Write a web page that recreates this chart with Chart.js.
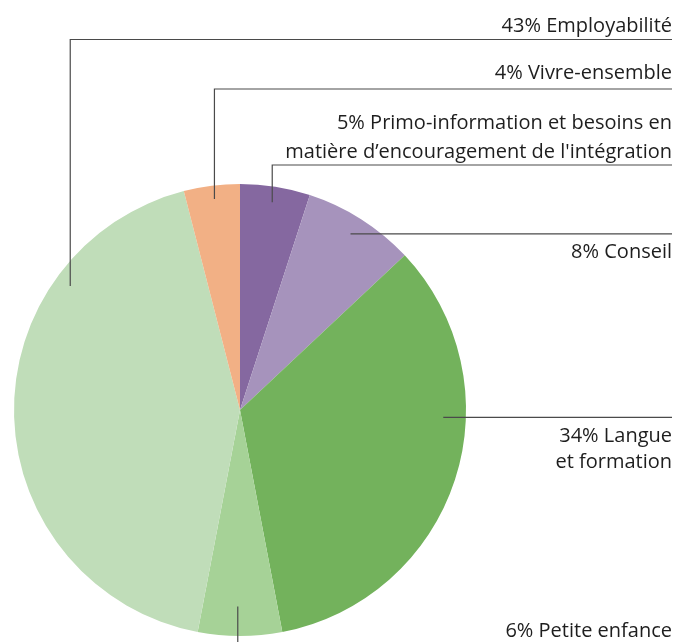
<!DOCTYPE html>
<html>
<head>
<meta charset="utf-8">
<script src="https://cdn.jsdelivr.net/npm/chart.js@4"></script>
<style>
  html, body { margin: 0; padding: 0; background: #fff; }
  #wrap { width: 677px; height: 642px; }
</style>
</head>
<body>
<div id="wrap"><canvas id="pie-chart"></canvas></div>
<script>
// data, clockwise from the top
const categories = [
    'Primo-information et besoins en matière d’encouragement de l\'intégration',
    'Conseil',
    'Langue et formation',
    'Petite enfance',
    'Employabilité',
    'Vivre-ensemble'
];
const shares = [5, 8, 34, 6, 43, 4];
const labelLines = [
    ['5% Primo-information et besoins en', 'matière d’encouragement de l\'intégration'],
    ['8% Conseil'],
    ['34% Langue', 'et formation'],
    ['6% Petite enfance'],
    ['43% Employabilité'],
    ['4% Vivre-ensemble']
];

const colors = ['#8568a0', '#a693bc', '#73b25c', '#a6d297', '#c0ddb9', '#f2b085'];

// leader line layout per slice: where on the slice it starts (fraction of
// angle span, fraction of radius), where it bends, and text baselines
const leaders = [
    { at: 0.49, r: 0.93, bend: 165, textY: [128.5, 157.5] },
    { at: 0.49, r: 0.92, bend: null, textY: [257.5] },
    { at: 0.37, r: 0.90, bend: null, textY: [442, 467.5] },
    { at: 0.53, r: 0.87, bend: 'down', textY: [636.5] },
    { at: 0.745, r: 0.93, bend: 39.5, textY: [31.5] },
    { at: 0.52, r: 0.94, bend: 89, textY: [79] }
];

const rightEdge = 672;

const leaderPlugin = {
    id: 'leaders',
    afterDatasetsDraw(chart) {
        const ctx = chart.ctx;
        const meta = chart.getDatasetMeta(0);
        ctx.save();
        ctx.strokeStyle = '#4a4a4a';
        ctx.lineWidth = 1.2;
        ctx.fillStyle = '#1e1e1e';
        ctx.font = '20px "Open Sans"';
        ctx.textAlign = 'right';
        ctx.textBaseline = 'alphabetic';
        meta.data.forEach((arc, i) => {
            const p = arc.getProps(['x', 'y', 'startAngle', 'endAngle', 'outerRadius'], true);
            const l = leaders[i];
            const a = p.startAngle + (p.endAngle - p.startAngle) * l.at;
            const ax = p.x + Math.cos(a) * p.outerRadius * l.r;
            const ay = p.y + Math.sin(a) * p.outerRadius * l.r;
            ctx.beginPath();
            ctx.moveTo(ax, ay);
            if (l.bend === 'down') {
                ctx.lineTo(ax, chart.height);
            } else if (l.bend === null) {
                ctx.lineTo(rightEdge, ay);
            } else {
                ctx.lineTo(ax, l.bend);
                ctx.lineTo(rightEdge, l.bend);
            }
            ctx.stroke();
            labelLines[i].forEach((t, j) => ctx.fillText(t, rightEdge, l.textY[j]));
        });
        ctx.restore();
    }
};

new Chart(document.getElementById('pie-chart'), {
    type: 'pie',
    data: {
        labels: categories,
        datasets: [{
            data: shares,
            backgroundColor: colors,
            borderWidth: 0
        }]
    },
    options: {
        responsive: true,
        maintainAspectRatio: false,
        animation: false,
        layout: { padding: { left: 14, right: 211, top: 184, bottom: 6 } },
        plugins: {
            legend: { display: false },
            tooltip: { enabled: false }
        }
    },
    plugins: [leaderPlugin]
});
</script>
</body>
</html>
